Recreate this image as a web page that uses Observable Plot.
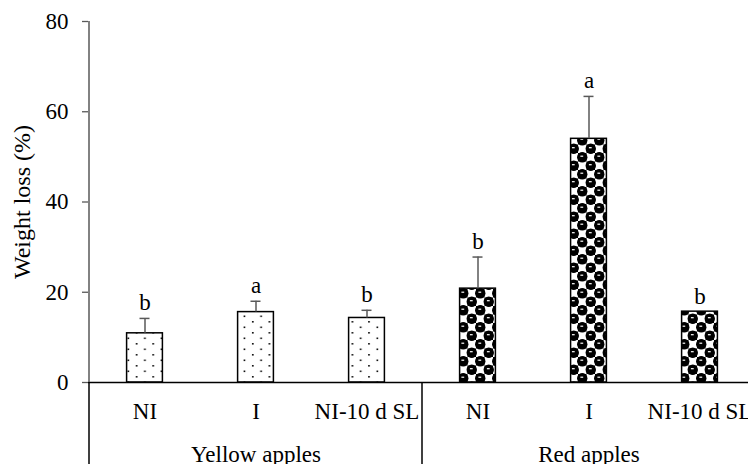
<!DOCTYPE html>
<html>
<head>
<meta charset="utf-8">
<script src="https://cdn.jsdelivr.net/npm/d3@7"></script>
<script src="https://cdn.jsdelivr.net/npm/@observablehq/plot@0.6"></script>
<style>
  html, body { margin: 0; padding: 0; background: #fff; }
  #chart svg { display: block; }
</style>
</head>
<body>
<div id="chart"></div>
<script>
// ---- data ----
const groups = ["Yellow apples", "Red apples"];
const treatments = ["NI", "I", "NI-10 d SL"];
const yellowMeans = [10.9, 15.6, 14.3];
const yellowErr = [3.3, 2.4, 1.7];
const yellowLetters = ["b", "a", "b"];
const redMeans = [20.8, 54.0, 15.7];
const redErr = [7.0, 9.4, 0];
const redLetters = ["b", "a", "b"];
const yTicks = [0, 20, 40, 60, 80];
const yLabel = "Weight loss (%)";

// table built from the arrays
const key = (g, t) => g + "|" + t;
const rows = [];
treatments.forEach((t, i) => rows.push({group: groups[0], treatment: t, key: key(groups[0], t), value: yellowMeans[i], err: yellowErr[i], letter: yellowLetters[i]}));
treatments.forEach((t, i) => rows.push({group: groups[1], treatment: t, key: key(groups[1], t), value: redMeans[i], err: redErr[i], letter: redLetters[i]}));
const domainX = rows.map(d => d.key);

const W = 748, H = 464;
const font = "'Liberation Serif', 'Times New Roman', Times, 'DejaVu Serif', serif";
const FS = 23;

const chart = Plot.plot({
  width: W,
  height: H,
  marginLeft: 88,
  marginRight: 0,
  marginTop: 21,
  marginBottom: 82,
  style: {fontFamily: font, fontSize: FS + "px", color: "black", background: "white"},
  x: {domain: domainX, range: [88, 756], padding: 0, axis: null},
  y: {domain: [0, 80], ticks: yTicks, axis: null},
  marks: [
    Plot.axisY(yTicks, {
      tickSize: 6, tickPadding: 14, stroke: "#595959", strokeWidth: 1.3,
      fontSize: FS, label: null
    }),
    Plot.axisY({
      ticks: [], tickSize: 0, fontSize: 24, label: yLabel, labelAnchor: "center",
      labelOffset: 76, labelArrow: "none"
    }),
    Plot.axisX(domainX, {
      tickSize: 0, tickPadding: 20, fontSize: FS, label: null,
      tickFormat: k => k.split("|")[1]
    }),
    Plot.barY(rows.filter(d => d.group === groups[0]), {
      x: "key", y: "value", fill: "url(#dots)", stroke: "black", strokeWidth: 1.5,
      insetLeft: 37.6, insetRight: 37.6
    }),
    Plot.barY(rows.filter(d => d.group === groups[1]), {
      x: "key", y: "value", fill: "url(#spheres)", stroke: "black", strokeWidth: 1.5,
      insetLeft: 37.6, insetRight: 37.6
    }),
    Plot.ruleX(rows.filter(d => d.err > 0), {
      x: "key", y1: "value", y2: d => d.value + d.err, stroke: "#595959", strokeWidth: 1.5
    }),
    Plot.tickY(rows.filter(d => d.err > 0), {
      x: "key", y: d => d.value + d.err, stroke: "#595959", strokeWidth: 1.5,
      insetLeft: 50.5, insetRight: 50.5
    }),
    Plot.text(rows, {
      x: "key", y: d => d.value + d.err, text: "letter", lineAnchor: "bottom", dy: -8,
      fontSize: FS, fill: "black"
    }),
    Plot.text(groups, {
      x: g => key(g, treatments[1]), frameAnchor: "bottom", text: d => d,
      lineAnchor: "bottom", dy: 79, fontSize: FS, fill: "black"
    }),
    Plot.ruleY([0], {stroke: "black", strokeWidth: 1.5})
  ]
});

// patterns used by the bar fills
const svg = d3.select(chart);
svg.style("font-family", font, "important");
svg.selectAll("text").style("font-family", font, "important");
const defs = svg.insert("defs", ":first-child");
const dots = defs.append("pattern").attr("id", "dots").attr("patternUnits", "userSpaceOnUse")
  .attr("width", 16.6).attr("height", 11);
dots.append("rect").attr("width", 16.6).attr("height", 11).attr("fill", "white");
dots.append("rect").attr("x", 3).attr("y", 2).attr("width", 1.6).attr("height", 1.6).attr("fill", "black");
dots.append("rect").attr("x", 11.3).attr("y", 7.5).attr("width", 1.6).attr("height", 1.6).attr("fill", "black");

const sp = defs.append("pattern").attr("id", "spheres").attr("patternUnits", "userSpaceOnUse")
  .attr("width", 17).attr("height", 17);
sp.append("rect").attr("width", 17).attr("height", 17).attr("fill", "white");
sp.append("rect").attr("x", 0).attr("y", 0).attr("width", 8.5).attr("height", 8.5).attr("fill", "black");
sp.append("rect").attr("x", 8.5).attr("y", 8.5).attr("width", 8.5).attr("height", 8.5).attr("fill", "black");
[[4.25, 4.25], [12.75, 12.75], [12.75, -4.25], [-4.25, 12.75], [21.25, 4.25], [4.25, 21.25]].forEach(([cx, cy]) =>
  sp.append("circle").attr("cx", cx).attr("cy", cy).attr("r", 5.2).attr("fill", "black"));
sp.append("rect").attr("x", 2.4).attr("y", 2.6).attr("width", 2.8).attr("height", 1.2).attr("fill", "white");
sp.append("rect").attr("x", 10.9).attr("y", 11.1).attr("width", 2.8).attr("height", 1.2).attr("fill", "white");

// axis lines and category-table lines, placed with the plot's own scales
const xs = chart.scale("x"), ys = chart.scale("y");
const y0 = ys.apply(0), yTop = ys.apply(80);
const left = xs.apply(domainX[0]);
const sep = xs.apply(key(groups[0], treatments[2])) + xs.bandwidth;
const g = svg.append("g");
g.append("line").attr("x1", left).attr("x2", left).attr("y1", yTop).attr("y2", y0)
  .attr("stroke", "#595959").attr("stroke-width", 1.5);
g.append("line").attr("x1", left).attr("x2", left).attr("y1", y0).attr("y2", H)
  .attr("stroke", "black").attr("stroke-width", 1.5);
g.append("line").attr("x1", sep).attr("x2", sep).attr("y1", y0).attr("y2", H)
  .attr("stroke", "black").attr("stroke-width", 1.5);

document.getElementById("chart").appendChild(chart);
</script>
</body>
</html>
